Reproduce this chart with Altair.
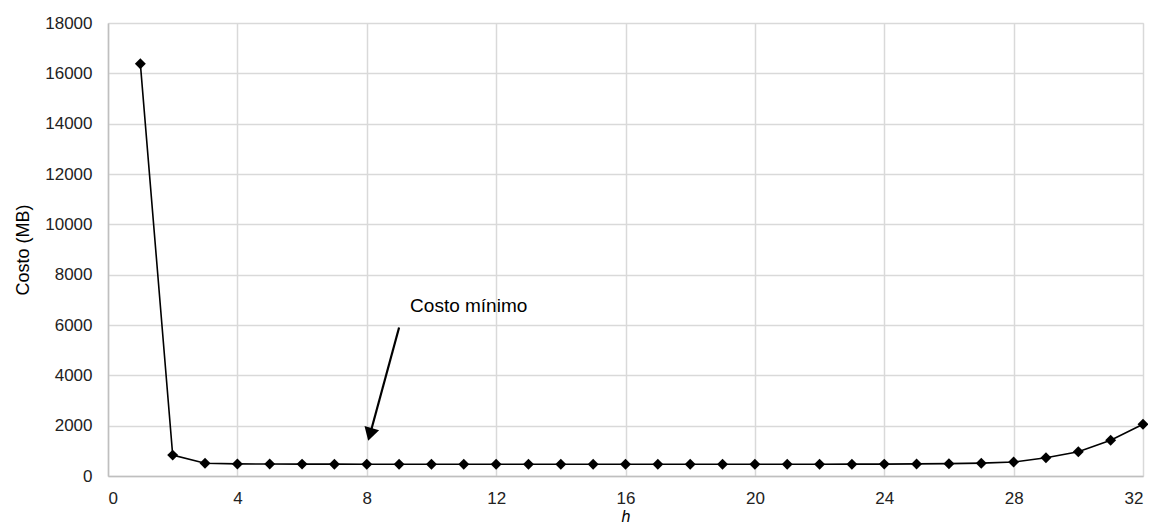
import altair as alt
import pandas as pd

h_values = list(range(1, 33))
costo_mb = [16384, 830, 505, 480, 475, 472, 470, 468, 468, 468, 468, 468, 468, 468, 468, 468,
            468, 468, 468, 468, 468, 468, 470, 472, 480, 490, 510, 556, 728, 966, 1419, 2054]

annot_text = ["Costo mínimo"]
arrow_x = [9.0]
arrow_y = [5900]
arrow_x2 = [8.1]
arrow_y2 = [1650]

df = pd.DataFrame({"h": h_values, "costo": costo_mb})
ann = pd.DataFrame({"x": arrow_x, "y": arrow_y, "x2": arrow_x2, "y2": arrow_y2, "t": annot_text})

FONT = "Liberation Sans"

xscale = alt.Scale(domain=[0, 32], nice=False, zero=False)
yscale = alt.Scale(domain=[0, 18000], nice=False)

xaxis = alt.Axis(values=list(range(0, 33, 4)), title="h", titleFontStyle="italic",
                 titleFontWeight="normal", titleFont=FONT, titleFontSize=16, titleColor="#000",
                 labelFont=FONT, labelFontSize=17, labelColor="#222", labelPadding=14,
                 ticks=False, domainColor="#bfbfbf", domainWidth=1.5, format="d",
                 gridColor="#d9d9d9", gridWidth=1.5, titlePadding=2)
yaxis = alt.Axis(values=list(range(0, 18001, 2000)), title="Costo (MB)",
                 titleFontWeight="normal", titleFont=FONT, titleFontSize=18, titleColor="#000",
                 labelFont=FONT, labelFontSize=17, labelColor="#222", labelPadding=16,
                 ticks=False, domainColor="#bfbfbf", domainWidth=1.5, format="d",
                 gridColor="#d9d9d9", gridWidth=1.5, titlePadding=12)

line = alt.Chart(df).mark_line(color="black", strokeWidth=1.6).encode(
    x=alt.X("h:Q", scale=xscale, axis=xaxis),
    y=alt.Y("costo:Q", scale=yscale, axis=yaxis),
)
pts = alt.Chart(df).mark_point(shape="diamond", filled=True, color="black", size=120, opacity=1).encode(
    x=alt.X("h:Q", scale=xscale),
    y=alt.Y("costo:Q", scale=yscale),
)

arrow_line = alt.Chart(ann).mark_rule(color="black", strokeWidth=2.2).encode(
    x=alt.X("x:Q", scale=xscale), y=alt.Y("y:Q", scale=yscale),
    x2="x2:Q", y2="y2:Q",
)
arrow_head = alt.Chart(ann).mark_point(shape="triangle-up", filled=True, color="black",
                                        size=230, opacity=1, angle=196).encode(
    x=alt.X("x2:Q", scale=xscale), y=alt.Y("y2:Q", scale=yscale),
)
label = alt.Chart(ann).mark_text(font=FONT, fontSize=19, align="left", baseline="middle",
                                 color="black", dx=11, dy=-22).encode(
    x=alt.X("x:Q", scale=xscale), y=alt.Y("y:Q", scale=yscale), text="t:N",
)

chart = alt.layer(line, pts, arrow_line, arrow_head, label).properties(
    width=1035, height=453,
    autosize=alt.AutoSizeParams(type="none"),
    padding={"left": 100, "top": 15, "right": 5, "bottom": 58},
).configure_view(stroke=None).configure(background="white")

chart.save("out.html", embed_options={"renderer": "svg", "actions": False})
